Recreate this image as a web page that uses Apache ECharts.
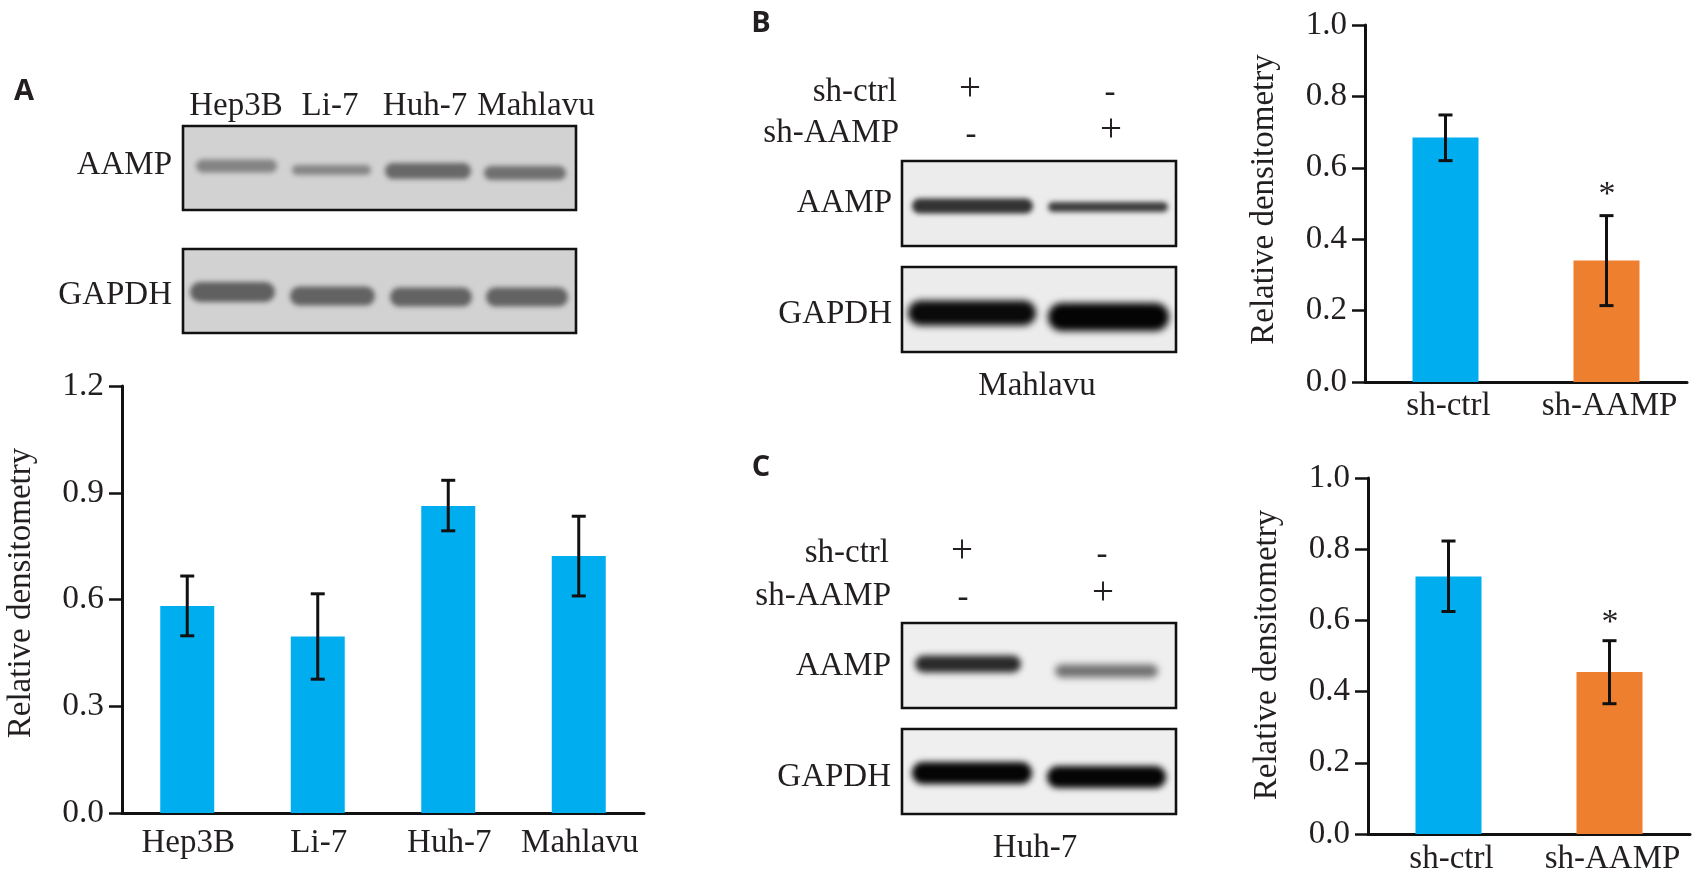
<!DOCTYPE html>
<html><head><meta charset="utf-8">
<style>html,body{margin:0;padding:0;background:#fff}#c{width:1706px;height:876px}</style>
<script src="https://cdn.jsdelivr.net/npm/echarts@6/dist/echarts.min.js"></script>
</head><body><div id="c"></div>
<script>
// --- data ---
const linesA = ['Hep3B', 'Li-7', 'Huh-7', 'Mahlavu'];
const valuesA = [0.582, 0.496, 0.863, 0.722];
const errLowA = [0.498, 0.376, 0.793, 0.610];
const errHighA = [0.666, 0.616, 0.935, 0.834];
const ticksA = { max: 1.2, interval: 0.3 };

const groups = ['sh-ctrl', 'sh-AAMP'];
const valuesB = [0.685, 0.340];
const errLowB = [0.620, 0.214];
const errHighB = [0.748, 0.466];

const valuesC = [0.723, 0.455];
const errLowC = [0.625, 0.366];
const errHighC = [0.823, 0.543];
const ticksBC = { max: 1.0, interval: 0.2 };

const yTitle = 'Relative densitometry';
const BLUE = '#00AEEF', ORANGE = '#ED7F2F', INK = '#231F20';
const SERIF = '"Liberation Serif", serif';

// --- layout ---
const panels = [
  { grid: { left: 122, top: 386, width: 522, height: 427 }, cats: linesA, vals: valuesA, lo: errLowA, hi: errHighA, ticks: ticksA, barW: 54, colors: [BLUE, BLUE, BLUE, BLUE], nameGap: 84, titleShift: 13, tickFont: 33.5, labelMargin: 14 },
  { grid: { left: 1365, top: 25, width: 322, height: 357 }, cats: groups, vals: valuesB, lo: errLowB, hi: errHighB, ticks: ticksBC, barW: 66, colors: [BLUE, ORANGE], nameGap: 84, titleShift: 8, tickFont: 33, labelMargin: 8 },
  { grid: { left: 1368, top: 478, width: 322, height: 356 }, cats: groups, vals: valuesC, lo: errLowC, hi: errHighC, ticks: ticksBC, barW: 66, colors: [BLUE, ORANGE], nameGap: 84, titleShift: 2, tickFont: 33, labelMargin: 9 }
];

const grid = [], xAxis = [], yAxis = [], series = [];
panels.forEach((p, i) => {
  grid.push(Object.assign({ containLabel: false }, p.grid));
  xAxis.push({
    type: 'category', gridIndex: i, data: p.cats,
    axisLine: { show: true, lineStyle: { color: '#111', width: 3 } },
    axisTick: { show: false },
    axisLabel: { color: INK, fontFamily: SERIF, fontSize: 33, margin: p.labelMargin, interval: 0, padding: [0, 0, 0, i ? 6 : 2] }
  });
  yAxis.push({
    type: 'value', gridIndex: i, min: 0, max: p.ticks.max, interval: p.ticks.interval,
    name: yTitle, nameLocation: 'middle', nameGap: p.nameGap,
    nameTextStyle: { color: INK, fontFamily: SERIF, fontSize: 33, padding: [0, 0, 0, p.titleShift] },
    splitLine: { show: false },
    axisLine: { show: true, lineStyle: { color: '#111', width: 3 } },
    axisTick: { show: true, length: 13, lineStyle: { color: '#111', width: 2.5 } },
    axisLabel: { color: INK, fontFamily: SERIF, fontSize: p.tickFont, margin: 18, padding: [3, 0, 0, 0], formatter: v => v.toFixed(1) }
  });
  series.push({
    type: 'bar', xAxisIndex: i, yAxisIndex: i, barWidth: p.barW, silent: true,
    data: p.vals.map((v, k) => ({ value: v, itemStyle: { color: p.colors[k] } })),
    animation: false
  });
  series.push({
    type: 'custom', xAxisIndex: i, yAxisIndex: i, silent: true, z: 5, animation: false,
    data: p.cats.map((c, k) => [k, p.lo[k], p.hi[k]]),
    encode: { x: 0, y: [1, 2] },
    renderItem: (params, api) => {
      const a = api.coord([api.value(0), api.value(1)]);
      const b = api.coord([api.value(0), api.value(2)]);
      const cap = 7;
      const s = { stroke: '#111', lineWidth: 3, fill: null };
      return { type: 'group', children: [
        { type: 'line', shape: { x1: a[0], y1: a[1], x2: b[0], y2: b[1] }, style: s },
        { type: 'line', shape: { x1: a[0] - cap, y1: a[1], x2: a[0] + cap, y2: a[1] }, style: s },
        { type: 'line', shape: { x1: b[0] - cap, y1: b[1], x2: b[0] + cap, y2: b[1] }, style: s }
      ] };
    }
  });
});

// --- blot panels and annotations ---
const g = [];
function txt(text, x, y, align, size, font, weight) {
  g.push({ type: 'text', x, y, z: 10, silent: true, style: {
    text, fill: INK, fontFamily: font || SERIF, fontSize: size || 33, fontWeight: weight || 'normal',
    align: align || 'center', verticalAlign: 'middle' } });
}
// A band is drawn as a pure blurred shadow: its rect sits off-canvas and only the shadow lands in the panel.
const OFF = 3000;
function blot(x, y, w, h, bg, bands) {
  g.push({ type: 'rect', z: 2, silent: true, shape: { x, y, width: w, height: h }, style: { fill: bg } });
  bands.forEach(([x0, x1, cy, t, col, blur]) => {
    g.push({ type: 'rect', z: 3, silent: true,
      shape: { x: x0 - OFF, y: cy - t / 2, width: x1 - x0, height: t, r: t / 2 },
      style: { fill: col, shadowBlur: blur, shadowColor: col, shadowOffsetX: OFF } });
  });
  g.push({ type: 'rect', z: 4, silent: true, shape: { x, y, width: w, height: h }, style: { fill: null, stroke: '#111', lineWidth: 2.6 } });
}

// Panel A blots
blot(183, 126, 393, 84, '#d2d2d2', [
  [196, 277, 166, 13, '#848484', 5], [292, 371, 170, 10, '#868686', 5],
  [385, 471, 171, 16, '#686868', 5], [484, 566, 173, 14, '#707070', 5]]);
blot(183, 249, 393, 84, '#d2d2d2', [
  [190, 275, 292, 20, '#606060', 5], [290, 375, 296, 19, '#636363', 5],
  [390, 472, 297, 19, '#636363', 5], [486, 568, 297, 19, '#636363', 5]]);
txt('Hep3B', 236, 106); txt('Li-7', 330, 106); txt('Huh-7', 425, 106); txt('Mahlavu', 536, 106);
txt('AAMP', 172, 165, 'right'); txt('GAPDH', 172, 295, 'right');
txt('A', 24, 92, 'center', 29, '"Open Sans"', 'bold');

// Panel B blots
blot(902, 161, 274, 85, '#ececec', [
  [912, 1033, 206, 15, '#333', 5], [1048, 1168, 207, 10, '#3e3e3e', 5]]);
blot(902, 267, 274, 85, '#ececec', [
  [908, 1036, 313, 25, '#0a0a0a', 7], [1048, 1169, 317, 28, '#040404', 7]]);
txt('sh-ctrl', 897, 92, 'right'); txt('sh-AAMP', 899, 133, 'right');
txt('+', 970, 90, 'center', 39); txt('-', 1110, 93); txt('-', 971, 135); txt('+', 1111, 131, 'center', 39);
txt('AAMP', 892, 203, 'right'); txt('GAPDH', 892, 314, 'right');
txt('Mahlavu', 1037, 386);
txt('B', 761, 24, 'center', 29, '"Open Sans"', 'bold');
txt('*', 1607, 195, 'center', 34);

// Panel C blots
blot(902, 623, 274, 85, '#efefef', [
  [915, 1021, 664, 17, '#2a2a2a', 6], [1055, 1158, 671, 13, '#707070', 7]]);
blot(902, 729, 274, 85, '#efefef', [
  [912, 1032, 773, 22, '#050505', 6], [1047, 1166, 777, 22, '#050505', 6]]);
txt('sh-ctrl', 889, 553, 'right'); txt('sh-AAMP', 891, 596, 'right');
txt('+', 962, 552, 'center', 39); txt('-', 1102, 555); txt('-', 963, 598); txt('+', 1103, 594, 'center', 39);
txt('AAMP', 891, 666, 'right'); txt('GAPDH', 891, 777, 'right');
txt('Huh-7', 1035, 848);
txt('C', 761, 468, 'center', 29, '"Open Sans"', 'bold');
txt('*', 1610, 623, 'center', 34);

const chart = echarts.init(document.getElementById('c'), null, { renderer: 'canvas' });
chart.setOption({ animation: false, backgroundColor: '#fff', grid, xAxis, yAxis, series, graphic: g });
</script></body></html>
